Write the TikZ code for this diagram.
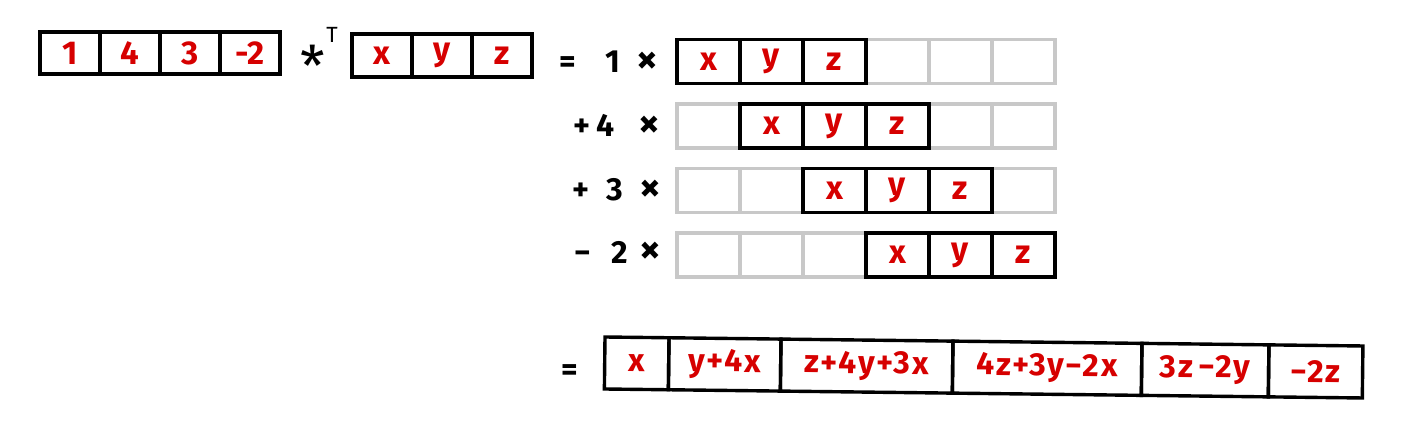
\documentclass[tikz,border=0pt]{standalone}
\usepackage{fontspec}
\setmainfont{Fira Sans}
\definecolor{hred}{RGB}{214,0,0}
\definecolor{hgray}{RGB}{200,200,200}
\newcommand{\hfnt}[1]{\fontsize{#1}{#1}\selectfont\bfseries}
\begin{document}
\begin{tikzpicture}[x=1pt,y=-1pt,
  cellbk/.style={draw=black, line width=3.4pt, inner sep=0pt, outer sep=0pt,
    minimum width=63pt, minimum height=44pt, text=hred,
    font=\hfnt{33}},
  cellgr/.style={draw=hgray, line width=3.2pt, inner sep=0pt, outer sep=0pt,
    minimum width=63pt, minimum height=44pt},
  lbl/.style={inner sep=0pt, anchor=base, text=black, font=\hfnt{32}},
  tms/.style={inner sep=0pt, text=black, font=\hfnt{42}},
  res/.style={draw=black, line width=3.4pt, inner sep=0pt, outer sep=0pt,
    minimum height=52pt, text=hred,
    font={\hfnt{32}\addfontfeature{LetterSpace=6}}}]
\useasboundingbox (0,0) rectangle (1415,443);

% first vector
\foreach \t [count=\i from 0] in {1,4,3,-2}
  \node[cellbk, minimum width=60pt, minimum height=42pt] (a\i) at ({70+60*\i},53) {\t};
\node[lbl, font=\fontsize{56}{56}\selectfont] (ast) at (313,87) {*};
\node[lbl, font=\fontsize{22}{22}\selectfont] (tp) at (332,43) {T};
\foreach \t [count=\i from 0] in {x,y,z}
  \node[cellbk, minimum width=60pt, minimum height=43pt] (v\i) at ({382+60*\i},55.5) {\t};

% row labels (baselines)
\node[lbl] (eq1) at (568,73) {=};
\node[lbl] (k1) at (613,73) {1};
\node[tms] (t1) at (647,63) {×};
\node[lbl] (s2) at (582,137) {+};
\node[lbl] (k2) at (606,137) {4};
\node[tms] (t2) at (649,127) {×};
\node[lbl] (s3) at (581,201) {+};
\node[lbl] (k3) at (615,201) {3};
\node[tms] (t3) at (650,191) {×};
\node[lbl] (s4) at (583,264) {−};
\node[lbl] (k4) at (620,264) {2};
\node[tms] (t4) at (650,253) {×};

\foreach \r/\yc in {0/61.5,1/126,2/190.5,3/255} {
  \foreach \i in {0,...,5}
    \node[cellgr] (g\r\i) at ({708.5+63*\i},\yc) {};
}
\foreach \r/\yc in {0/61.5,1/126,2/190.5,3/255} {
  \foreach \t [count=\j from 0] in {x,y,z}
    \node[cellbk] (b\r\j) at ({708.5+63*(\r+\j)},\yc) {\t};
}

% result
\node[lbl] (eq2) at (570,380) {=};
\begin{scope}[shift={(605,337)}, rotate=-0.68, transform shape]
  \node[res, minimum width=64pt]  (c0) at (32,26)    {x};
  \node[res, minimum width=112pt] (c1) at (120,26)   {y+4x};
  \node[res, minimum width=172pt] (c2) at (262,26)   {z+4y+3x};
  \node[res, minimum width=189pt] (c3) at (442.5,26) {4z+3y−2x};
  \node[res, minimum width=127pt] (c4) at (600.5,26) {3z\,−2y};
  \node[res, minimum width=94pt]  (c5) at (711,26)   {−2z};
\end{scope}
\end{tikzpicture}
\end{document}
